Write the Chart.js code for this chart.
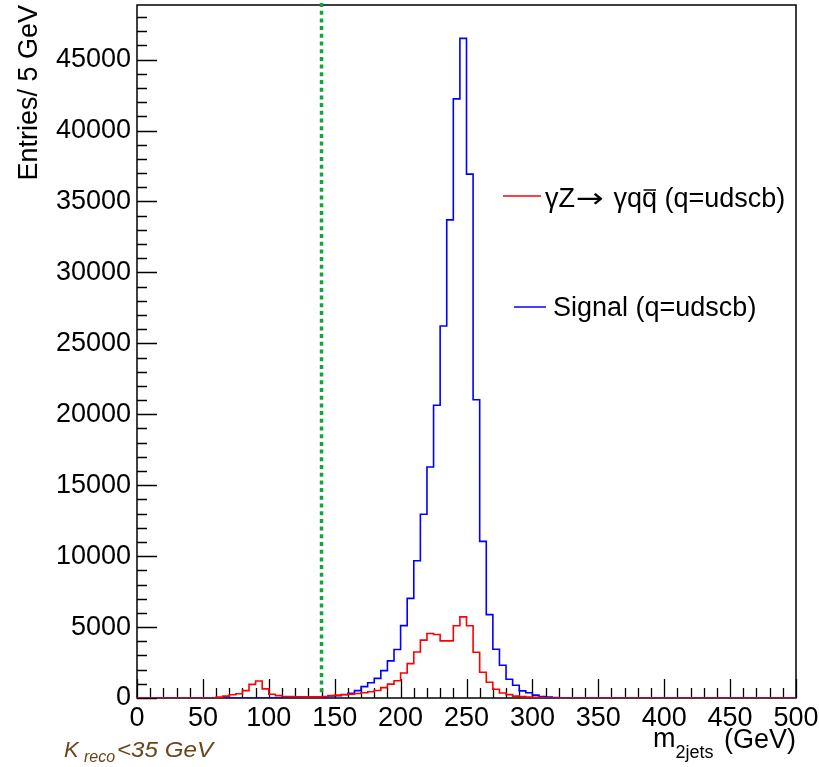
<!DOCTYPE html>
<html>
<head>
<meta charset="utf-8">
<script src="https://cdn.jsdelivr.net/npm/chart.js@4/dist/chart.umd.min.js"></script>
<style>
  html, body { margin: 0; padding: 0; background: #fff; }
  #wrap { width: 819px; height: 767px; position: relative; }
</style>
</head>
<body>
<div id="wrap"><canvas id="c" width="819" height="767"></canvas></div>
<script>
// ---- data (5 GeV bins from 0 to 500 GeV) ----
const binWidth = 5;
const xMin = 0;
const xMax = 500;
const yMax = 48850;
const xTicks = [0, 50, 100, 150, 200, 250, 300, 350, 400, 450, 500];
const yTicks = [0, 5000, 10000, 15000, 20000, 25000, 30000, 35000, 40000, 45000];
const xMinorStep = 10, yMinorStep = 1000;
const cutValue = 140;

const seriesNames = ['\u03B3Z\u2192 \u03B3qq (q=udscb)', 'Signal (q=udscb)'];

// gamma Z -> gamma q qbar background (red)
const background = [
  0, 0, 0, 0, 0, 0, 0, 0, 0, 0,
  0, 0, 60, 130, 230, 300, 520, 960, 1200, 640,
  260, 170, 110, 100, 90, 80, 80, 80, 110, 180,
  200, 230, 270, 320, 370, 440, 530, 730, 980, 1220,
  1760, 2420, 3240, 4080, 4550, 4480, 4030, 4030, 5090, 5720,
  5090, 3230, 1820, 1110, 620, 350, 240, 130, 100, 70,
  50, 30, 0, 0, 0, 0, 0, 0, 0, 0,
  0, 0, 0, 0, 0, 0, 0, 0, 0, 0,
  0, 0, 0, 0, 0, 0, 0, 0, 0, 0,
  0, 0, 0, 0, 0, 0, 0, 0, 0, 0
];

// Signal (blue)
const signal = [
  0, 0, 0, 0, 0, 0, 0, 0, 0, 0,
  0, 0, 0, 0, 0, 0, 0, 0, 0, 0,
  0, 0, 0, 0, 0, 20, 30, 50, 80, 140,
  160, 250, 330, 520, 800, 1080, 1380, 1930, 2620, 3420,
  5100, 7020, 9680, 12950, 16280, 20640, 26220, 33700, 42230, 46500,
  36930, 21020, 11040, 5880, 3440, 2310, 1320, 900, 500, 370,
  200, 110, 60, 30, 0, 0, 0, 0, 0, 0,
  0, 0, 0, 0, 0, 0, 0, 0, 0, 0,
  0, 0, 0, 0, 0, 0, 0, 0, 0, 0,
  0, 0, 0, 0, 0, 0, 0, 0, 0, 0
];

function toSteps(values) {
  const pts = values.map((v, i) => ({ x: xMin + i * binWidth, y: v }));
  pts.push({ x: xMin + values.length * binWidth, y: values[values.length - 1] });
  return pts;
}

const FONT = '"Liberation Sans", Arial, Helvetica, sans-serif';

const framePlugin = {
  id: 'frame',
  beforeDatasetsDraw(chart) {
    const { ctx, chartArea: a, scales: { x, y } } = chart;
    ctx.save();
    ctx.strokeStyle = '#000';
    ctx.lineWidth = 1.5;
    ctx.strokeRect(a.left, a.top, a.right - a.left, a.bottom - a.top);
    ctx.lineWidth = 1.3;
    ctx.beginPath();
    for (let v = xMin; v <= xMax + 1e-6; v += xMinorStep) {
      const px = Math.round(x.getPixelForValue(v)) + 0.5;
      const len = xTicks.includes(v) ? 19 : 10;
      ctx.moveTo(px, a.bottom);
      ctx.lineTo(px, a.bottom - len);
    }
    for (let v = 0; v <= yMax; v += yMinorStep) {
      const py = Math.round(y.getPixelForValue(v)) + 0.5;
      const len = yTicks.includes(v) ? 20 : 10;
      ctx.moveTo(a.left, py);
      ctx.lineTo(a.left + len, py);
    }
    ctx.stroke();
    ctx.restore();
  },
  afterDatasetsDraw(chart) {
    const { ctx, chartArea: a, scales: { x } } = chart;
    ctx.save();
    // cut line
    const cx = x.getPixelForValue(cutValue);
    ctx.strokeStyle = '#12a53a';
    ctx.lineWidth = 3.5;
    ctx.setLineDash([4, 3.7]);
    ctx.beginPath();
    ctx.moveTo(cx, a.top - 2);
    ctx.lineTo(cx, a.bottom - 2);
    ctx.stroke();
    ctx.setLineDash([]);

    // legend
    ctx.font = '27px ' + FONT;
    ctx.fillStyle = '#000';
    ctx.textBaseline = 'alphabetic';
    ctx.textAlign = 'left';
    ctx.lineWidth = 1.5;
    ctx.strokeStyle = '#ff0000';
    ctx.beginPath(); ctx.moveTo(503, 196); ctx.lineTo(541, 196); ctx.stroke();
    ctx.strokeStyle = '#0000ff';
    ctx.beginPath(); ctx.moveTo(514, 307); ctx.lineTo(546, 307); ctx.stroke();

    const parts = seriesNames[0].split('\u2192');
    let tx = 545;
    const ty = 207;
    ctx.fillText(parts[0], tx, ty);
    tx += ctx.measureText(parts[0]).width + 1;
    // arrow
    ctx.save();
    ctx.font = '27px "DejaVu Sans", sans-serif';
    const aw = ctx.measureText('\u2192').width;
    ctx.translate(tx, ty);
    ctx.scale(28 / aw, 1);
    ctx.fillText('\u2192', 0, 0);
    ctx.restore();
    tx += 30;
    ctx.font = '27px ' + FONT;
    ctx.fillText(parts[1], tx, ty);
    // overline on the anti-quark
    const pre = ctx.measureText(' \u03B3q').width;
    const qw = ctx.measureText('q').width;
    ctx.strokeStyle = '#000';
    ctx.lineWidth = 1.5;
    ctx.beginPath();
    ctx.moveTo(tx + pre + 1.5, ty - 17);
    ctx.lineTo(tx + pre + qw - 1, ty - 17);
    ctx.stroke();
    ctx.fillText(seriesNames[1], 553, 316);

    // y axis title
    ctx.save();
    ctx.translate(37, 5);
    ctx.rotate(-Math.PI / 2);
    ctx.textAlign = 'right';
    ctx.fillText('Entries/ 5 GeV', 0, 0);
    ctx.restore();

    // x axis title
    ctx.textAlign = 'left';
    ctx.font = '27px ' + FONT;
    ctx.fillText('m', 653, 747);
    const mw = ctx.measureText('m').width;
    ctx.font = '18px ' + FONT;
    ctx.fillText('2jets', 653 + mw, 758);
    ctx.font = '27px ' + FONT;
    ctx.textAlign = 'right';
    ctx.fillText('(GeV)', 796, 748);

    // selection label
    ctx.textAlign = 'left';
    ctx.fillStyle = '#6a451a';
    ctx.font = 'italic 22px ' + FONT;
    ctx.fillText('K', 64, 757);
    ctx.font = 'italic 16px ' + FONT;
    ctx.fillText('reco', 84, 762);
    ctx.font = 'italic 22px ' + FONT;
    const lbl = '<35 GeV';
    const lw = ctx.measureText(lbl).width;
    ctx.save();
    ctx.translate(117, 757);
    ctx.scale(96 / lw, 1);
    ctx.fillText(lbl, 0, 0);
    ctx.restore();
    ctx.restore();
  }
};

new Chart(document.getElementById('c'), {
  type: 'line',
  data: {
    datasets: [
      {
        label: seriesNames[0],
        data: toSteps(background),
        borderColor: '#ff0000',
        borderWidth: 1.6,
        pointRadius: 0,
        stepped: 'before',
        fill: false,
        tension: 0
      },
      {
        label: seriesNames[1],
        data: toSteps(signal),
        borderColor: '#0000ff',
        borderWidth: 1.6,
        pointRadius: 0,
        stepped: 'before',
        fill: false,
        tension: 0
      }
    ]
  },
  options: {
    responsive: false,
    animation: false,
    events: [],
    layout: { padding: { left: 0, right: 23, top: 5, bottom: 0 } },
    plugins: { legend: { display: false }, tooltip: { enabled: false } },
    scales: {
      x: {
        type: 'linear',
        min: xMin,
        max: xMax,
        grid: { display: false, drawTicks: false },
        border: { display: false },
        afterBuildTicks(s) { s.ticks = xTicks.map(v => ({ value: v })); },
        ticks: {
          autoSkip: false,
          maxRotation: 0,
          padding: 4,
          color: '#000',
          font: { family: FONT, size: 27 },
          callback: v => String(v)
        },
        afterFit(s) { s.height = 69; s.paddingLeft = 0; s.paddingRight = 0; }
      },
      y: {
        type: 'linear',
        min: 0,
        max: yMax,
        grid: { display: false, drawTicks: false },
        border: { display: false },
        afterBuildTicks(s) { s.ticks = yTicks.map(v => ({ value: v })); },
        ticks: {
          autoSkip: false,
          padding: 6,
          color: '#000',
          font: { family: FONT, size: 27 },
          callback: v => String(v)
        },
        afterFit(s) { s.width = 137; s.paddingTop = 0; s.paddingBottom = 0; }
      }
    }
  },
  plugins: [framePlugin]
});
</script>
</body>
</html>
